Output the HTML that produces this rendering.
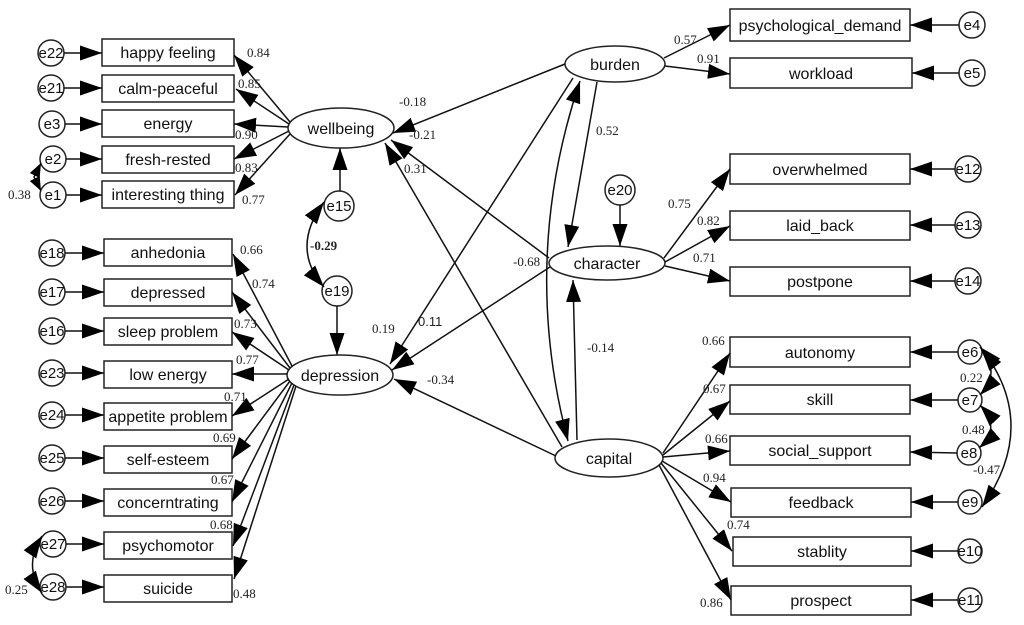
<!DOCTYPE html>
<html><head><meta charset="utf-8"><style>
html,body{margin:0;padding:0;background:#fff;}
svg{display:block;}
.b{fill:#fff;stroke:#222;stroke-width:1.5;}
.t{font-family:"Liberation Sans",sans-serif;font-size:16px;fill:#111;text-anchor:middle;}
.e{font-family:"Liberation Sans",sans-serif;font-size:15px;fill:#111;text-anchor:middle;}
.n{font-family:"Liberation Serif",serif;font-size:13px;fill:#222;}
line,path.l{stroke:#111;stroke-width:1.5;fill:none;}
</style></head><body>
<svg width="1024" height="625" viewBox="0 0 1024 625" xmlns="http://www.w3.org/2000/svg">
<defs>
<marker id="a" markerUnits="userSpaceOnUse" markerWidth="24" markerHeight="16" refX="22" refY="7.5" orient="auto-start-reverse"><path d="M0,0 L22,7.5 L0,15 z" fill="#000"/></marker>
<marker id="s" markerUnits="userSpaceOnUse" markerWidth="16" markerHeight="12" refX="14" refY="5.5" orient="auto-start-reverse"><path d="M0,0 L14,5.5 L0,11 z" fill="#000"/></marker>
</defs>

<g>
<rect class="b" x="102" y="39" width="132" height="27"/><text class="t" x="168" y="58">happy feeling</text>
<rect class="b" x="102" y="75" width="132" height="27"/><text class="t" x="168" y="94">calm-peaceful</text>
<rect class="b" x="102" y="110" width="132" height="27"/><text class="t" x="168" y="129">energy</text>
<rect class="b" x="102" y="146" width="132" height="27"/><text class="t" x="168" y="165">fresh-rested</text>
<rect class="b" x="102" y="181" width="132" height="27"/><text class="t" x="168" y="200">interesting thing</text>
</g>
<g>
<circle class="b" cx="51" cy="53" r="13"/><text class="e" x="51" y="58">e22</text>
<circle class="b" cx="51" cy="88" r="13"/><text class="e" x="51" y="93">e21</text>
<circle class="b" cx="52" cy="124" r="13"/><text class="e" x="52" y="129">e3</text>
<circle class="b" cx="53" cy="159" r="13"/><text class="e" x="53" y="164">e2</text>
<circle class="b" cx="53" cy="195" r="13"/><text class="e" x="53" y="200">e1</text>
</g>
<line x1="64" y1="53" x2="102" y2="53" marker-end="url(#a)"/>
<line x1="64" y1="88" x2="102" y2="88" marker-end="url(#a)"/>
<line x1="65" y1="124" x2="102" y2="124" marker-end="url(#a)"/>
<line x1="66" y1="159" x2="102" y2="159" marker-end="url(#a)"/>
<line x1="66" y1="195" x2="102" y2="195" marker-end="url(#a)"/>
<path class="l" d="M41,163 L34,177 L41,191" marker-start="url(#s)" marker-end="url(#s)"/>
<text class="n" x="8" y="199">0.38</text>

<ellipse class="b" cx="341" cy="128" rx="53" ry="20"/><text class="t" x="341" y="134">wellbeing</text>
<line x1="290" y1="122" x2="234" y2="55" marker-end="url(#a)"/>
<line x1="289" y1="124" x2="236" y2="89" marker-end="url(#a)"/>
<line x1="288" y1="127" x2="234" y2="124" marker-end="url(#a)"/>
<line x1="289" y1="131" x2="234" y2="159" marker-end="url(#a)"/>
<line x1="290" y1="134" x2="235" y2="195" marker-end="url(#a)"/>
<text class="n" x="247" y="57">0.84</text>
<text class="n" x="238" y="88">0.85</text>
<text class="n" x="235" y="139">0.90</text>
<text class="n" x="235" y="172">0.83</text>
<text class="n" x="242" y="204">0.77</text>

<circle class="b" cx="339" cy="206" r="15"/><text class="e" x="339" y="211">e15</text>
<line x1="340" y1="191" x2="340" y2="148" marker-end="url(#a)"/>
<circle class="b" cx="337" cy="291" r="15"/><text class="e" x="337" y="296">e19</text>
<line x1="337" y1="306" x2="337" y2="355" marker-end="url(#a)"/>
<path class="l" d="M324,202 Q290,248 324,287" marker-start="url(#a)" marker-end="url(#a)"/>
<text class="n" x="310" y="250" style="font-weight:bold">-0.29</text>

<ellipse class="b" cx="340" cy="375" rx="53" ry="20"/><text class="t" x="340" y="381">depression</text>
<g>
<rect class="b" x="104" y="239" width="128" height="27"/><text class="t" x="168" y="258">anhedonia</text>
<rect class="b" x="104" y="279" width="128" height="27"/><text class="t" x="168" y="298">depressed</text>
<rect class="b" x="104" y="318" width="128" height="27"/><text class="t" x="168" y="337">sleep problem</text>
<rect class="b" x="104" y="361" width="128" height="27"/><text class="t" x="168" y="380">low energy</text>
<rect class="b" x="104" y="403" width="128" height="27"/><text class="t" x="168" y="422">appetite problem</text>
<rect class="b" x="104" y="446" width="128" height="27"/><text class="t" x="168" y="465">self-esteem</text>
<rect class="b" x="104" y="489" width="128" height="27"/><text class="t" x="168" y="508">concerntrating</text>
<rect class="b" x="104" y="532" width="128" height="27"/><text class="t" x="168" y="551">psychomotor</text>
<rect class="b" x="104" y="575" width="128" height="27"/><text class="t" x="168" y="594">suicide</text>
</g>
<g>
<circle class="b" cx="52" cy="253" r="13"/><text class="e" x="52" y="258">e18</text>
<circle class="b" cx="52" cy="292" r="13"/><text class="e" x="52" y="297">e17</text>
<circle class="b" cx="52" cy="331" r="13"/><text class="e" x="52" y="336">e16</text>
<circle class="b" cx="52" cy="373" r="13"/><text class="e" x="52" y="378">e23</text>
<circle class="b" cx="52" cy="415" r="13"/><text class="e" x="52" y="420">e24</text>
<circle class="b" cx="52" cy="458" r="13"/><text class="e" x="52" y="463">e25</text>
<circle class="b" cx="52" cy="501" r="13"/><text class="e" x="52" y="506">e26</text>
<circle class="b" cx="53" cy="544" r="13"/><text class="e" x="53" y="549">e27</text>
<circle class="b" cx="53" cy="587" r="13"/><text class="e" x="53" y="592">e28</text>
</g>
<line x1="65" y1="253" x2="104" y2="253" marker-end="url(#a)"/>
<line x1="65" y1="292" x2="104" y2="292" marker-end="url(#a)"/>
<line x1="65" y1="331" x2="104" y2="331" marker-end="url(#a)"/>
<line x1="65" y1="373" x2="104" y2="373" marker-end="url(#a)"/>
<line x1="65" y1="415" x2="104" y2="415" marker-end="url(#a)"/>
<line x1="65" y1="458" x2="104" y2="458" marker-end="url(#a)"/>
<line x1="65" y1="501" x2="104" y2="501" marker-end="url(#a)"/>
<line x1="66" y1="544" x2="104" y2="544" marker-end="url(#a)"/>
<line x1="66" y1="587" x2="104" y2="587" marker-end="url(#a)"/>
<path class="l" d="M42,536 Q23,565 42,593" marker-start="url(#a)" marker-end="url(#a)"/>
<text class="n" x="5" y="594">0.25</text>

<line x1="292" y1="366" x2="233" y2="254" marker-end="url(#a)"/>
<line x1="290" y1="368" x2="232" y2="292" marker-end="url(#a)"/>
<line x1="289" y1="370" x2="232" y2="332" marker-end="url(#a)"/>
<line x1="287" y1="374" x2="232" y2="374" marker-end="url(#a)"/>
<line x1="289" y1="379" x2="232" y2="416" marker-end="url(#a)"/>
<line x1="290" y1="381" x2="232" y2="459" marker-end="url(#a)"/>
<line x1="292" y1="383" x2="232" y2="502" marker-end="url(#a)"/>
<line x1="294" y1="385" x2="233" y2="546" marker-end="url(#a)"/>
<line x1="296" y1="386" x2="234" y2="579" marker-end="url(#a)"/>
<text class="n" x="240" y="254">0.66</text>
<text class="n" x="252" y="288">0.74</text>
<text class="n" x="234" y="328">0.73</text>
<text class="n" x="236" y="364">0.77</text>
<text class="n" x="224" y="401">0.71</text>
<text class="n" x="213" y="442">0.69</text>
<text class="n" x="211" y="484">0.67</text>
<text class="n" x="210" y="529">0.68</text>
<text class="n" x="233" y="598">0.48</text>

<ellipse class="b" cx="615" cy="64" rx="50" ry="18"/><text class="t" x="615" y="70">burden</text>
<rect class="b" x="730" y="9" width="180" height="32"/><text class="t" x="820" y="31">psychological_demand</text>
<rect class="b" x="730" y="58" width="182" height="30"/><text class="t" x="821" y="79">workload</text>
<circle class="b" cx="972" cy="25" r="13"/><text class="e" x="972" y="30">e4</text>
<circle class="b" cx="972" cy="73" r="13"/><text class="e" x="972" y="78">e5</text>
<line x1="959" y1="25" x2="910" y2="25" marker-end="url(#a)"/>
<line x1="959" y1="73" x2="912" y2="73" marker-end="url(#a)"/>
<line x1="664" y1="58" x2="730" y2="25" marker-end="url(#a)"/>
<line x1="665" y1="66" x2="730" y2="74" marker-end="url(#a)"/>
<text class="n" x="674" y="44">0.57</text>
<text class="n" x="697" y="63">0.91</text>

<ellipse class="b" cx="607" cy="263" rx="58" ry="17"/><text class="t" x="607" y="269">character</text>
<circle class="b" cx="620" cy="190" r="15"/><text class="e" x="620" y="195">e20</text>
<line x1="620" y1="205" x2="620" y2="246" marker-end="url(#a)"/>
<rect class="b" x="730" y="154" width="180" height="30"/><text class="t" x="820" y="175">overwhelmed</text>
<rect class="b" x="730" y="211" width="180" height="29"/><text class="t" x="820" y="231">laid_back</text>
<rect class="b" x="730" y="267" width="180" height="29"/><text class="t" x="820" y="287">postpone</text>
<circle class="b" cx="968" cy="169" r="13"/><text class="e" x="968" y="174">e12</text>
<circle class="b" cx="968" cy="225" r="13"/><text class="e" x="968" y="230">e13</text>
<circle class="b" cx="968" cy="281" r="13"/><text class="e" x="968" y="286">e14</text>
<line x1="955" y1="169" x2="910" y2="169" marker-end="url(#a)"/>
<line x1="955" y1="225" x2="910" y2="225" marker-end="url(#a)"/>
<line x1="955" y1="281" x2="910" y2="281" marker-end="url(#a)"/>
<line x1="664" y1="258" x2="730" y2="169" marker-end="url(#a)"/>
<line x1="665" y1="262" x2="730" y2="226" marker-end="url(#a)"/>
<line x1="665" y1="266" x2="730" y2="281" marker-end="url(#a)"/>
<text class="n" x="668" y="208">0.75</text>
<text class="n" x="697" y="225">0.82</text>
<text class="n" x="693" y="262">0.71</text>

<ellipse class="b" cx="609" cy="458" rx="54" ry="19"/><text class="t" x="609" y="464">capital</text>
<rect class="b" x="730" y="337" width="180" height="30"/><text class="t" x="820" y="358">autonomy</text>
<rect class="b" x="730" y="385" width="180" height="29"/><text class="t" x="820" y="405">skill</text>
<rect class="b" x="730" y="436" width="180" height="29"/><text class="t" x="820" y="456">social_support</text>
<rect class="b" x="731" y="488" width="180" height="29"/><text class="t" x="821" y="508">feedback</text>
<rect class="b" x="733" y="537" width="178" height="29"/><text class="t" x="822" y="557">stablity</text>
<rect class="b" x="731" y="586" width="180" height="29"/><text class="t" x="821" y="606">prospect</text>
<circle class="b" cx="970" cy="352" r="12"/><text class="e" x="970" y="357">e6</text>
<circle class="b" cx="970" cy="400" r="12"/><text class="e" x="970" y="405">e7</text>
<circle class="b" cx="969" cy="453" r="12"/><text class="e" x="969" y="458">e8</text>
<circle class="b" cx="970" cy="502" r="12"/><text class="e" x="970" y="507">e9</text>
<circle class="b" cx="970" cy="551" r="12"/><text class="e" x="970" y="556">e10</text>
<circle class="b" cx="970" cy="600" r="12"/><text class="e" x="970" y="605">e11</text>
<line x1="958" y1="352" x2="910" y2="352" marker-end="url(#a)"/>
<line x1="958" y1="400" x2="910" y2="400" marker-end="url(#a)"/>
<line x1="957" y1="453" x2="910" y2="452" marker-end="url(#a)"/>
<line x1="958" y1="502" x2="911" y2="502" marker-end="url(#a)"/>
<line x1="958" y1="551" x2="911" y2="551" marker-end="url(#a)"/>
<line x1="958" y1="600" x2="911" y2="600" marker-end="url(#a)"/>
<path class="l" d="M980,347 Q1002,372 980,395" marker-start="url(#a)" marker-end="url(#a)"/>
<path class="l" d="M980,405 Q1002,428 979,448" marker-start="url(#a)" marker-end="url(#a)"/>
<path class="l" d="M982,349 Q1040,425 982,507" marker-start="url(#a)" marker-end="url(#a)"/>
<text class="n" x="960" y="382">0.22</text>
<text class="n" x="962" y="434">0.48</text>
<text class="n" x="973" y="474">-0.47</text>
<line x1="663" y1="453" x2="730" y2="353" marker-end="url(#a)"/>
<line x1="663" y1="455" x2="730" y2="401" marker-end="url(#a)"/>
<line x1="663" y1="457" x2="730" y2="451" marker-end="url(#a)"/>
<line x1="662" y1="461" x2="731" y2="502" marker-end="url(#a)"/>
<line x1="661" y1="463" x2="732" y2="551" marker-end="url(#a)"/>
<line x1="659" y1="465" x2="731" y2="600" marker-end="url(#a)"/>
<text class="n" x="702" y="345">0.66</text>
<text class="n" x="703" y="393">0.67</text>
<text class="n" x="705" y="443">0.66</text>
<text class="n" x="703" y="482">0.94</text>
<text class="n" x="727" y="529">0.74</text>
<text class="n" x="700" y="607">0.86</text>

<line x1="565" y1="64" x2="393" y2="133" marker-end="url(#a)"/>
<line x1="549" y1="258" x2="391" y2="140" marker-end="url(#a)"/>
<line x1="562" y1="447" x2="385" y2="143" marker-end="url(#a)"/>
<line x1="573" y1="78" x2="390" y2="364" marker-end="url(#a)"/>
<line x1="550" y1="267" x2="392" y2="370" marker-end="url(#a)"/>
<line x1="556" y1="456" x2="394" y2="379" marker-end="url(#a)"/>
<line x1="597" y1="82" x2="568" y2="247" marker-end="url(#a)"/>
<line x1="577" y1="440" x2="573" y2="280" marker-end="url(#a)"/>
<path class="l" d="M580,81 Q520,260 568,441" marker-start="url(#a)" marker-end="url(#a)"/>
<text class="n" x="399" y="106">-0.18</text>
<text class="n" x="409" y="139">-0.21</text>
<text class="n" x="404" y="173">0.31</text>
<text class="n" x="372" y="333">0.19</text>
<text class="n" x="418" y="326" style="font-family:'Liberation Sans',sans-serif;font-size:13px">0.11</text>
<text class="n" x="513" y="266">-0.68</text>
<text class="n" x="427" y="384">-0.34</text>
<text class="n" x="596" y="135">0.52</text>
<text class="n" x="587" y="352">-0.14</text>
</svg>
</body></html>
